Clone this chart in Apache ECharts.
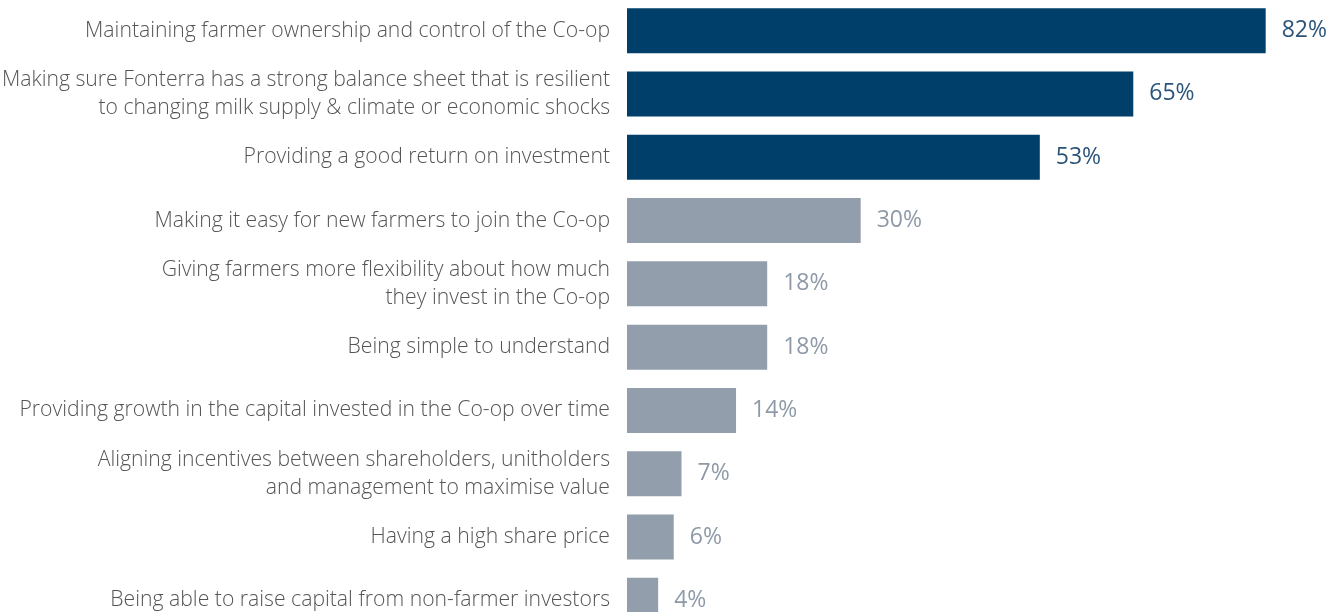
<!DOCTYPE html>
<html>
<head>
<meta charset="utf-8">
<script src="https://cdn.jsdelivr.net/npm/echarts@6/dist/echarts.min.js"></script>
<style>
  html, body { margin: 0; padding: 0; background: #fff; }
  #chart { width: 1342px; height: 612px; }
</style>
</head>
<body>
<div id="chart"></div>
<script>
const categories = [
  'Maintaining farmer ownership and control of the Co-op',
  'Making sure Fonterra has a strong balance sheet that is resilient\nto changing milk supply & climate or economic shocks',
  'Providing a good return on investment',
  'Making it easy for new farmers to join the Co-op',
  'Giving farmers more flexibility about how much\nthey invest in the Co-op',
  'Being simple to understand',
  'Providing growth in the capital invested in the Co-op over time',
  'Aligning incentives between shareholders, unitholders\nand management to maximise value',
  'Having a high share price',
  'Being able to raise capital from non-farmer investors'
];
const values = [82, 65, 53, 30, 18, 18, 14, 7, 6, 4];
// first three are highlighted
const highlighted = [true, true, true, false, false, false, false, false, false, false];

const navy = '#003f69';
const navyText = '#2b5478';
const grey = '#939eac';
const greyText = '#8e9aa8';

const chart = echarts.init(document.getElementById('chart'));
chart.setOption({
  animation: false,
  grid: {
    left: 627,
    right: 14,
    top: -1,
    height: 633,
    containLabel: false,
    outerBoundsMode: 'none'
  },
  xAxis: {
    type: 'value',
    min: 0,
    max: 90,
    show: false
  },
  yAxis: {
    type: 'category',
    inverse: true,
    data: categories,
    axisLine: { show: false },
    axisTick: { show: false },
    axisLabel: {
      margin: 17,
      color: '#555555',
      fontFamily: 'Open Sans',
      fontWeight: 300,
      fontSize: 21.2,
      lineHeight: 28,
      align: 'right'
    }
  },
  series: [{
    type: 'bar',
    barWidth: 45,
    data: values.map((v, i) => ({
      value: v,
      itemStyle: { color: highlighted[i] ? navy : grey },
      label: { color: highlighted[i] ? navyText : greyText }
    })),
    label: {
      show: true,
      position: 'right',
      distance: 16,
      formatter: '{c}%',
      fontFamily: 'Open Sans',
      fontSize: 23
    }
  }]
});
</script>
</body>
</html>
